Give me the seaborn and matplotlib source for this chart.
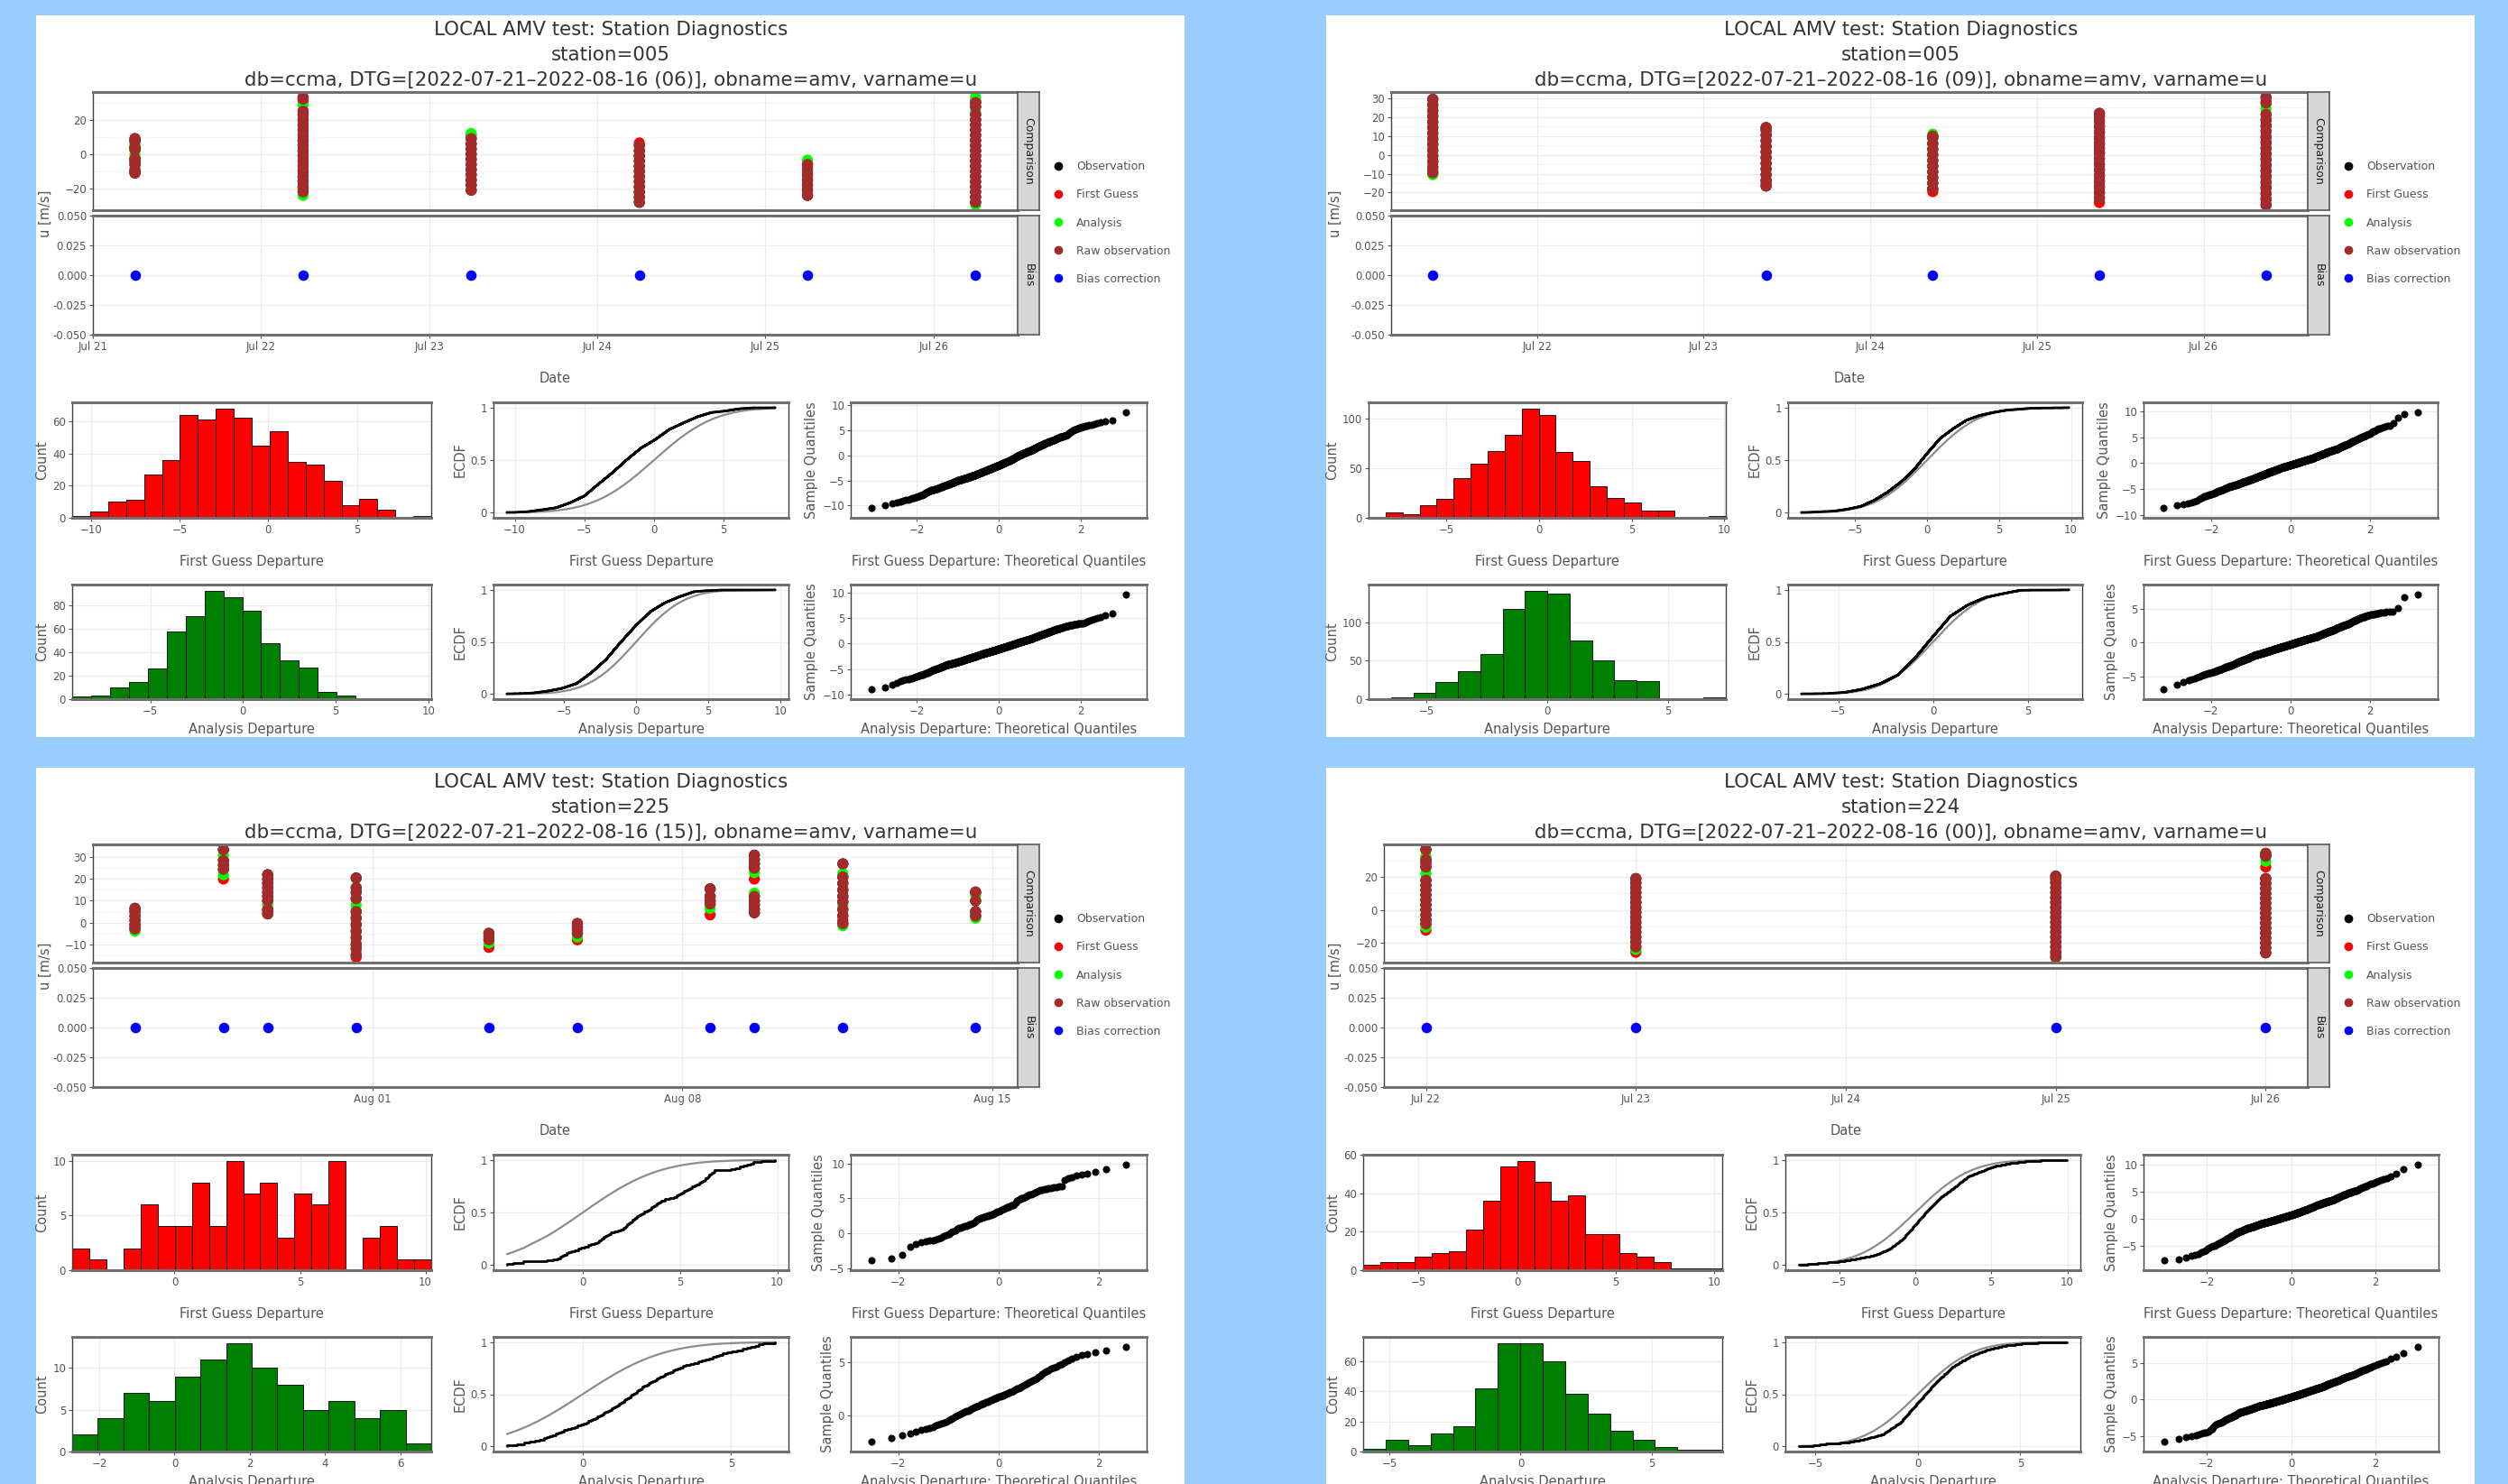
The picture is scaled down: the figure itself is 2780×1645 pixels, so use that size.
import numpy as np
import pandas as pd
import seaborn as sns
import matplotlib.pyplot as plt
import matplotlib.dates as mdates
from matplotlib.lines import Line2D
from matplotlib.patches import Rectangle
from matplotlib.ticker import MaxNLocator, MultipleLocator, FixedLocator, FormatStrFormatter
from statistics import NormalDist

sns.set_style('ticks')
plt.rcParams['font.family'] = ['DejaVu Sans']

# ---- data ----
stations = ['005', '005', '225', '224']
dtg_hours = ['06', '09', '15', '00']

# panel A: station 005, (06)
a_dates = ['2022-07-21 06:00', '2022-07-22 06:00', '2022-07-23 06:00',
           '2022-07-24 06:00', '2022-07-25 06:00', '2022-07-26 06:00']
a_obs = [
    [-11, -9.5, -6, -4, -2.5, 2.5, 4, 7.5, 9],
    [-22, -19, -16, -13, -10, -7, -4, -1, 2, 5, 8, 11, 14, 17, 20, 23, 25, 32, 33],
    [-21, -18, -15, -12, -9, -6, -3, 0, 3, 6, 9],
    [-28, -25, -22, -19, -16, -13, -10, -7, -4, -1, 2, 5],
    [-24, -21, -18, -15, -12, -9, -6],
    [-28, -25, -22, -19, -16, -13, -10, -7, -4, -1, 2, 5, 8, 11, 14, 17, 20, 23, 27.5, 30],
]
a_fg = [[-10, 4], [31, -20], [11], [6.5], [-5], [31]]
a_an = [[-8, 0, 5.5], [28.5, -24], [12], [-27], [-3.5], [33, 25, -29.5]]
a_xticks = ['2022-07-21', '2022-07-22', '2022-07-23', '2022-07-24', '2022-07-25', '2022-07-26']
a_fg_range = (-11.07, 9.2)
a_fg_counts = [1, 4, 10, 11, 27, 36, 64, 61, 68, 62, 45, 54, 35, 33, 23, 8, 12, 5, 0, 1]
a_an_range = (-9.22, 10.16)
a_an_counts = [2, 3, 10, 15, 26, 58, 71, 93, 87, 76, 48, 33, 27, 6, 3, 0, 0, 0, 1]

# panel B: station 005, (09)
b_dates = ['2022-07-21 09:00', '2022-07-23 09:00', '2022-07-24 09:00',
           '2022-07-25 09:00', '2022-07-26 09:00']
b_obs = [
    [-9.5, -6.5, -3.5, -0.5, 2.5, 5.5, 8.5, 11.5, 14.5, 17.5, 20.5, 23.5, 26.5, 29.5],
    [-16.5, -13.5, -10.5, -7.5, -4.5, -1.5, 1.5, 4.5, 7.5, 10.5, 13, 14.5],
    [-18, -15, -12, -9, -6, -3, 0, 3, 6, 9, 10],
    [-23, -20, -17, -14, -11, -8, -5, -2, 1, 3.5, 6, 9, 12, 15, 18, 20.5, 22],
    [-26.5, -23.5, -20.5, -17.5, -14.5, -11.5, -8.5, -5.5, -2.5, 0.5, 3.5, 6.5,
     9.5, 12.5, 15.5, 18.5, 21.5, 27.5, 30.5],
]
b_fg = [[-8], [-15], [-19.5], [-25.3], [28]]
b_an = [[-10.5], [13.5], [11], [-22.5], [24.5]]
b_xticks = ['2022-07-22', '2022-07-23', '2022-07-24', '2022-07-25', '2022-07-26']
b_fg_range = (-9.19, 10.08)
b_fg_counts = [1, 5, 4, 13, 19, 40, 54, 67, 83, 110, 103, 66, 57, 32, 20, 15, 7, 7, 1, 1, 2]
b_an_range = (-7.41, 7.4)
b_an_counts = [1, 2, 8, 22, 36, 58, 117, 141, 137, 76, 50, 25, 23, 1, 0, 2]

# panel C: station 225, (15)
c_dates = ['2022-07-26 15:00', '2022-07-28 15:00', '2022-07-29 15:00', '2022-07-31 15:00',
           '2022-08-03 15:00', '2022-08-05 15:00', '2022-08-08 15:00', '2022-08-09 15:00',
           '2022-08-11 15:00', '2022-08-14 15:00']
c_obs = [
    [-3, -1, 1, 3, 5, 6.5],
    [24.5, 26.5, 28.5, 33.5],
    [4, 6, 10, 12, 14, 16, 18, 20, 22],
    [-15, -12, -10, -7, -4, -1, 2, 5, 11, 14, 16, 20.5],
    [-5, -6.5, -8],
    [-0.5, -2, -3.5, -5],
    [8.5, 10, 12, 15.5],
    [4.5, 6, 8, 10, 12, 25, 27, 29, 31],
    [-0.5, 3, 6, 9.5, 12, 15, 18, 21, 27],
    [3, 5, 10, 14],
]
c_fg = [[-2], [20], [5], [-16], [-11.5], [-8], [3.5], [20], [1], [13.8]]
c_an = [[-4], [31, 22], [8], [-13.5, 8], [-9.5], [-6.7], [6.5], [23, 13.5], [22.5, 8, -1.5], [12.5, 2]]
c_xticks = ['2022-08-01', '2022-08-08', '2022-08-15']
c_fg_range = (-4.08, 10.23)
c_fg_counts = [2, 1, 0, 2, 6, 4, 4, 8, 4, 10, 7, 8, 3, 7, 6, 10, 0, 3, 4, 1, 1]
c_an_range = (-2.72, 6.82)
c_an_counts = [2, 4, 7, 6, 9, 11, 13, 10, 8, 5, 6, 4, 5, 1]

# panel D: station 224, (00)
d_dates = ['2022-07-22 00:00', '2022-07-23 00:00', '2022-07-25 00:00', '2022-07-26 00:00']
d_obs = [
    [-8.5, -6, -3, 0, 3, 6, 9, 12, 15, 18, 26, 28.5, 30.5, 36.5],
    [-22.5, -19.5, -16.5, -13.5, -10.5, -7.5, -4.5, -1.5, 1.5, 4.5, 7.5, 10.5, 13.5, 16.5, 19],
    [-28.7, -25.5, -22.5, -19.5, -16.5, -13.5, -10.5, -7.5, -4.5, -1.5, 1.5, 4.5, 7.5,
     10.5, 13.5, 16.5, 19, 20.5],
    [-26, -23, -20, -17, -14, -11, -8, -5, -2, 1, 4, 7, 10, 13, 16, 19, 32.5, 34.3],
]
d_fg = [[-12.3], [-25.7], [-27], [26]]
d_an = [[32.5, 22, -10.5], [-24], [18], [29.5]]
d_xticks = ['2022-07-22', '2022-07-23', '2022-07-24', '2022-07-25', '2022-07-26']
d_fg_range = (-7.8, 10.41)
d_fg_counts = [3, 4, 4, 7, 9, 10, 21, 36, 54, 57, 46, 36, 39, 19, 19, 9, 7, 4, 1, 1, 1]
d_an_range = (-6.01, 7.7)
d_an_counts = [2, 8, 4, 12, 17, 42, 72, 72, 60, 38, 25, 14, 8, 3, 1, 1]

y_steps = [20, 10, 10, 20]

kinds = ['Observation', 'First Guess', 'Analysis', 'Raw observation', 'Bias correction']
kind_colors = ['black', '#FF0000', '#00FF00', '#A52A2A', '#0000FF']

panels = [
    dict(dates=a_dates, obs=a_obs, fg=a_fg, an=a_an, xticks=a_xticks,
         fg_hist=(a_fg_range, a_fg_counts), an_hist=(a_an_range, a_an_counts)),
    dict(dates=b_dates, obs=b_obs, fg=b_fg, an=b_an, xticks=b_xticks,
         fg_hist=(b_fg_range, b_fg_counts), an_hist=(b_an_range, b_an_counts)),
    dict(dates=c_dates, obs=c_obs, fg=c_fg, an=c_an, xticks=c_xticks,
         fg_hist=(c_fg_range, c_fg_counts), an_hist=(c_an_range, c_an_counts)),
    dict(dates=d_dates, obs=d_obs, fg=d_fg, an=d_an, xticks=d_xticks,
         fg_hist=(d_fg_range, d_fg_counts), an_hist=(d_an_range, d_an_counts)),
]

# ---- layout (pixels) ----
W, H = 2780, 1645
origins = [(40, 17), (1470, 17), (40, 851), (1470, 851)]
layouts = [
    dict(comp_l=63, hist=(40, 438), ecdf=(507, 834), qq=(903, 1231)),
    dict(comp_l=72, hist=(47, 443), ecdf=(512, 838), qq=(906, 1232)),
    dict(comp_l=63, hist=(40, 438), ecdf=(507, 834), qq=(903, 1231)),
    dict(comp_l=64, hist=(41, 439), ecdf=(509, 836), qq=(906, 1233)),
]
TXT = '#555555'

fig = plt.figure(figsize=(W / 100, H / 100), dpi=100)
fig.patch.set_facecolor('#99CCFF')


def add_ax(ox, oy, l, t, r, b):
    return fig.add_axes([(ox + l) / W, 1 - (oy + b) / H, (r - l) / W, (b - t) / H])


def ftext(ox, oy, x, y, s, **kw):
    fig.text((ox + x) / W, 1 - (oy + y) / H, s, **kw)


def style_box(ax):
    ax.set_facecolor('white')
    for s in ('top', 'bottom'):
        ax.spines[s].set_linewidth(2.2)
        ax.spines[s].set_color('#707070')
    for s in ('left', 'right'):
        ax.spines[s].set_linewidth(1.0)
        ax.spines[s].set_color('#404040')
    ax.grid(True, which='major', color='#EBEBEB', linewidth=0.9)
    ax.set_axisbelow(True)
    ax.tick_params(labelsize=8.5, labelcolor=TXT, color='#555555', length=3, width=0.8, pad=2)
    ax.set_xlabel('')
    ax.set_ylabel('')


def spread(rng, counts):
    # sample rebuilt from the histogram: values spaced inside each bin
    edges = np.linspace(rng[0], rng[1], len(counts) + 1)
    vals = []
    for k, c in enumerate(counts):
        w = edges[k + 1] - edges[k]
        vals += [edges[k] + (j + 0.5) * w / c for j in range(c)]
    return np.array(vals), edges


def padded(lo, hi, f=0.05):
    d = (hi - lo) * f
    return lo - d, hi + d


def strip(ox, oy, l, t, r, b, label):
    s = add_ax(ox, oy, l, t, r, b)
    s.set_facecolor('#D6D6D6')
    s.set_xticks([])
    s.set_yticks([])
    for sp in s.spines.values():
        sp.set_color('#5A5A5A')
        sp.set_linewidth(1.2)
    s.text(0.5, 0.5, label, rotation=270, ha='center', va='center', fontsize=9,
           color='#1A1A1A', transform=s.transAxes)


def draw_panel(idx):
    ox, oy = origins[idx]
    lay = layouts[idx]
    p = panels[idx]
    fig.add_artist(Rectangle((ox / W, 1 - (oy + 800) / H), 1273 / W, 800 / H,
                             transform=fig.transFigure, facecolor='white',
                             edgecolor='none', zorder=-5))

    title_kw = dict(ha='center', va='center', fontsize=15.4, color='#333333')
    ftext(ox, oy, 637, 16, 'LOCAL AMV test: Station Diagnostics', **title_kw)
    ftext(ox, oy, 637, 44, f'station={stations[idx]}', **title_kw)
    ftext(ox, oy, 637, 72,
          f'db=ccma, DTG=[2022-07-21\u20132022-08-16 ({dtg_hours[idx]})], obname=amv, varname=u',
          **title_kw)

    # time series facets
    rows = []
    for name, series in [('Observation', p['obs']), ('First Guess', p['fg']),
                         ('Analysis', p['an']), ('Raw observation', p['obs'])]:
        for d, vals in zip(p['dates'], series):
            for v in vals:
                rows.append((pd.Timestamp(d), v, name))
    df = pd.DataFrame(rows, columns=['date', 'u', 'kind'])
    pal = dict(zip(kinds, kind_colors))

    cl, cr = lay['comp_l'], 1088
    ax1 = add_ax(ox, oy, cl, 85, cr, 216)
    ax2 = add_ax(ox, oy, cl, 222, cr, 354)
    sns.scatterplot(data=df, x='date', y='u', hue='kind', palette=pal, s=78,
                    linewidth=0, legend=False, ax=ax1)
    dts = pd.to_datetime(p['dates'])
    sns.scatterplot(x=dts, y=np.zeros(len(dts)), color=kind_colors[4], s=70,
                    linewidth=0, ax=ax2)

    span = dts.max() - dts.min()
    xl = (dts.min() - span * 0.05, dts.max() + span * 0.05)
    ax1.set_ylim(*padded(df['u'].min(), df['u'].max()))
    ax2.set_ylim(-0.05, 0.05)
    for ax in (ax1, ax2):
        style_box(ax)
        ax.set_xlim(*xl)
        ax.xaxis.set_major_locator(FixedLocator(mdates.date2num(pd.to_datetime(p['xticks']))))
        ax.xaxis.set_major_formatter(mdates.DateFormatter('%b %d'))
    ax1.yaxis.set_major_locator(MultipleLocator(y_steps[idx]))
    ax1.yaxis.set_minor_locator(MultipleLocator(y_steps[idx] / 2))
    ax1.grid(True, which='minor', axis='y', color='#F3F3F3', linewidth=0.6)
    ax1.tick_params(which='minor', length=0)
    ax1.tick_params(axis='x', labelbottom=False, length=0)
    ax2.set_yticks([-0.05, -0.025, 0, 0.025, 0.05])
    ax2.yaxis.set_major_formatter(FormatStrFormatter('%.3f'))

    strip(ox, oy, cr, 85, cr + 24, 216, 'Comparison')
    strip(ox, oy, cr, 222, cr + 24, 354, 'Bias')

    ftext(ox, oy, 10, 220, 'u [m/s]', rotation=90, ha='center', va='center',
          fontsize=10.5, color=TXT)
    ftext(ox, oy, (cl + cr) / 2, 403, 'Date', ha='center', va='center',
          fontsize=10.5, color=TXT)

    handles = [Line2D([], [], marker='o', ls='', color=c, markersize=6) for c in kind_colors]
    fig.legend(handles, kinds, loc='center left',
               bbox_to_anchor=((ox + 1127) / W, 1 - (oy + 230) / H),
               frameon=False, fontsize=9, labelcolor=TXT, handlelength=1,
               handletextpad=1.1, labelspacing=1.45, borderaxespad=0, borderpad=0)

    # departure diagnostics
    for (top, bot, lab_y, key, color, name) in [
            (429, 557, 606, 'fg_hist', '#FF0000', 'First Guess Departure'),
            (631, 758, 791, 'an_hist', '#008000', 'Analysis Departure')]:
        rng, counts = p[key]
        sample, edges = spread(rng, counts)
        n = len(sample)

        h = add_ax(ox, oy, lay['hist'][0], top, lay['hist'][1], bot)
        sns.histplot(x=sample, bins=edges, color=color, edgecolor='black',
                     linewidth=0.6, alpha=1, ax=h)
        style_box(h)
        h.set_xlim(edges[0], edges[-1])
        h.set_ylim(0, max(counts) * 1.055)
        h.set_ylabel('Count', fontsize=10.5, color=TXT, labelpad=3)
        h.xaxis.set_major_locator(MaxNLocator(nbins=5, steps=[1, 2, 5, 10]))
        h.yaxis.set_major_locator(MaxNLocator(nbins=5, steps=[1, 2, 5, 10]))

        e = add_ax(ox, oy, lay['ecdf'][0], top, lay['ecdf'][1], bot)
        sd = sample.std()
        xs = np.sort(sample)
        ref = [NormalDist(0, sd).cdf(v) for v in xs]
        sns.lineplot(x=xs, y=ref, color='#8C8C8C', linewidth=1.6, estimator=None, ax=e)
        sns.ecdfplot(x=sample, color='black', linewidth=2.0, ax=e)
        style_box(e)
        e.set_xlim(*padded(xs[0], xs[-1]))
        e.set_ylim(-0.05, 1.05)
        e.xaxis.set_major_locator(MultipleLocator(5))
        e.set_yticks([0, 0.5, 1])
        e.set_yticklabels(['0', '0.5', '1'])
        e.set_ylabel('ECDF', fontsize=10.5, color=TXT, labelpad=3)

        q = add_ax(ox, oy, lay['qq'][0], top, lay['qq'][1], bot)
        theo = np.array([NormalDist().inv_cdf((i + 0.5) / n) for i in range(n)])
        sns.scatterplot(x=theo, y=xs, color='black', s=34, linewidth=0, ax=q)
        style_box(q)
        q.set_xlim(*padded(theo[0], theo[-1], 0.08))
        q.set_ylim(*padded(xs[0], xs[-1], 0.10))
        q.xaxis.set_major_locator(MultipleLocator(2))
        q.yaxis.set_major_locator(MultipleLocator(5))
        q.set_ylabel('Sample Quantiles', fontsize=10.5, color=TXT, labelpad=3)

        for (l, r), txt in [(lay['hist'], name), (lay['ecdf'], name),
                            (lay['qq'], name + ': Theoretical Quantiles')]:
            ftext(ox, oy, (l + r) / 2, lab_y, txt, ha='center', va='center',
                  fontsize=10.5, color=TXT)


for i in range(4):
    draw_panel(i)

fig.savefig('out.png', dpi=100, facecolor=fig.get_facecolor())
